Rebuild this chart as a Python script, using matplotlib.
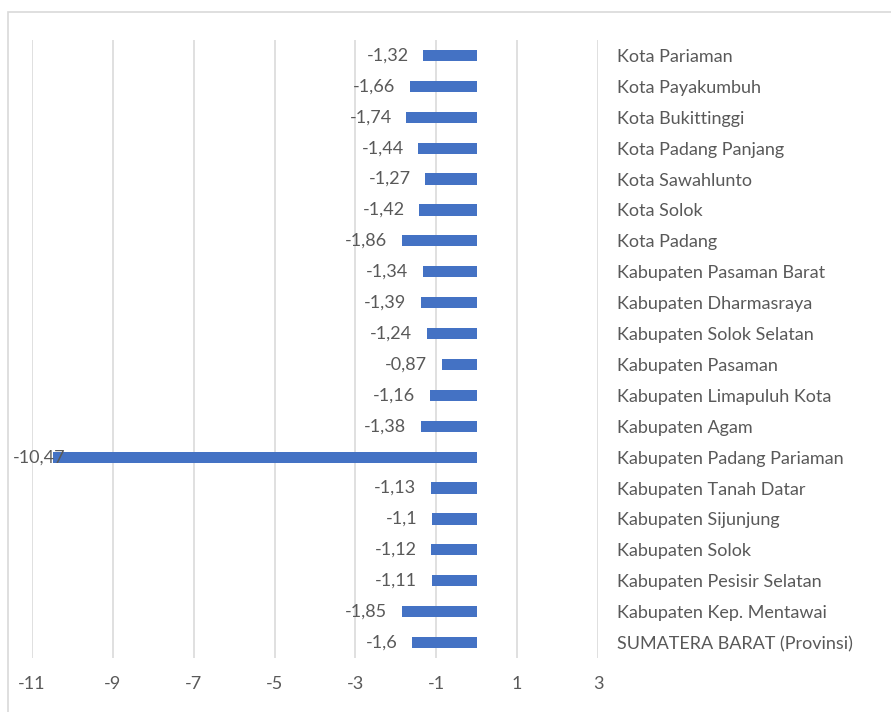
import matplotlib
matplotlib.use("Agg")
import matplotlib.pyplot as plt
from matplotlib.patches import Rectangle

categories = [
    "Kota Pariaman", "Kota Payakumbuh", "Kota Bukittinggi", "Kota Padang Panjang",
    "Kota Sawahlunto", "Kota Solok", "Kota Padang", "Kabupaten Pasaman Barat",
    "Kabupaten Dharmasraya", "Kabupaten Solok Selatan", "Kabupaten Pasaman",
    "Kabupaten Limapuluh Kota", "Kabupaten Agam", "Kabupaten Padang Pariaman",
    "Kabupaten Tanah Datar", "Kabupaten Sijunjung", "Kabupaten Solok",
    "Kabupaten Pesisir Selatan", "Kabupaten Kep. Mentawai", "SUMATERA BARAT (Provinsi)",
]
values = [-1.32, -1.66, -1.74, -1.44, -1.27, -1.42, -1.86, -1.34, -1.39, -1.24,
          -0.87, -1.16, -1.38, -10.47, -1.13, -1.1, -1.12, -1.11, -1.85, -1.6]
x_ticks = [-11, -9, -7, -5, -3, -1, 1, 3]

plt.rcParams['font.family'] = ['Lato', 'DejaVu Sans']
TXT = '#595959'
FS = 13
W, H = 891, 712
fig = plt.figure(figsize=(W / 100, H / 100), dpi=100)

# chart area border
fig.patches.append(Rectangle((8 / W, -0.1), 1.2, (H - 12) / H + 0.1, transform=fig.transFigure,
                             fill=False, edgecolor='#d9d9d9', linewidth=1.2))

ax = fig.add_axes([32 / W, (H - 658) / H, (598 - 32) / W, (658 - 40) / H])
n = len(categories)
ypos = list(range(n))
ax.barh(ypos, values, height=0.36, color='#4472C4', zorder=3)
ax.set_xlim(-11, 3)
ax.set_ylim(n - 0.5, -0.5)
ax.set_xticks(x_ticks)
ax.set_xticklabels([str(t) for t in x_ticks])
ax.xaxis.grid(True, color='#dadada', linewidth=1.2, zorder=0)
for s in ax.spines.values():
    s.set_visible(False)
ax.tick_params(axis='x', length=0, pad=13, labelsize=FS, labelcolor=TXT)
ax.yaxis.tick_right()
ax.set_yticks(ypos)
ax.set_yticklabels(categories)
ax.tick_params(axis='y', length=0, pad=14, labelsize=FS, labelcolor=TXT)

OFF = -10.5
texts = []
for y, v in zip(ypos, values):
    t = ax.annotate(str(v).replace('.', ','), xy=(v, y), xytext=(OFF, 0),
                    textcoords='offset points', ha='right', va='center',
                    fontsize=FS, color=TXT, zorder=4)
    texts.append(t)

fig.canvas.draw()
r = fig.canvas.get_renderer()
min_left = 13
for t in texts:
    bb = t.get_window_extent(r)
    if bb.x0 < min_left:
        shift = (min_left - bb.x0) * 72 / fig.dpi
        t.set_position((OFF + shift, 0))

fig.savefig('out.png', dpi=100, facecolor='white')
